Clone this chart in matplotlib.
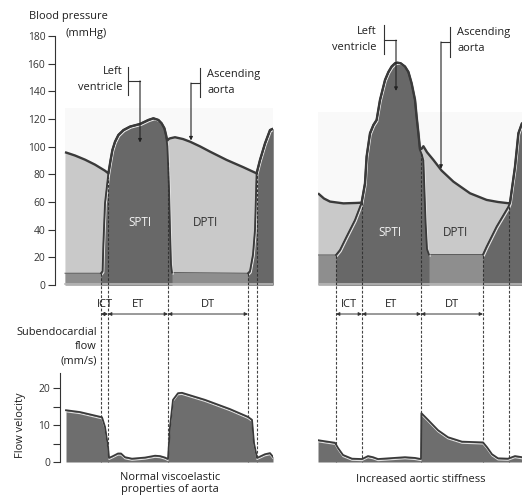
import numpy as np
import matplotlib
matplotlib.use("Agg")
import matplotlib.pyplot as plt
from matplotlib.transforms import offset_copy

plt.rcParams['font.family'] = ['Open Sans', 'DejaVu Sans']

# time in ms, pressure in mmHg, flow in mm/s

# --- normal viscoelastic aorta ---
lv_t_n = [0, 180, 188, 192, 200, 217, 228, 237, 250, 267, 292, 325, 375, 417, 442, 467,
          483, 497, 505, 512, 520, 525, 530, 535, 915, 925, 940, 950, 958, 975, 1000, 1025, 1040]
lv_p_n = [8.5, 8.5, 10, 30, 59, 80.7, 90.4, 97.6, 103.6, 108.5, 112, 114.5, 116.4, 119.3, 120.5, 119.3,
          116.9, 113.3, 108.5, 100, 70, 40, 15, 9, 8.5, 10, 22, 40, 80.7, 90.4, 102.4, 112, 113]
ao_t_n = [0, 50, 100, 150, 200, 217, 228, 237, 250, 267, 292, 325, 375, 417, 442, 467,
          483, 497, 505, 512, 518, 525, 550, 590, 625, 675, 725, 808, 892, 958, 975, 1000, 1025, 1040]
ao_p_n = [96, 93.6, 90.6, 87, 82.6, 80.7, 90.4, 97.6, 103.6, 108.5, 112, 114.5, 116.4, 119.3, 120.5, 119.3,
          116.9, 113.3, 108.5, 104.5, 105.5, 106, 106.8, 105.5, 103.6, 100.2, 96.4, 90.4, 85.1, 80.7,
          90.4, 102.4, 112, 113]
fl_t_n = [5, 75, 185, 200, 215, 220, 240, 265, 280, 300, 335, 400, 450, 475, 500, 515,
          525, 540, 565, 585, 700, 825, 915, 935, 945, 960, 1000, 1025, 1040]
fl_v_n = [14.0, 13.5, 12.1, 9.5, 4.1, 1.1, 1.6, 2.3, 2.3, 1.3, 0.9, 1.2, 1.7, 1.6, 1.2, 0.8,
          9.5, 16.8, 18.6, 18.7, 16.8, 14.3, 12.2, 11.4, 5.1, 1.1, 2.1, 2.4, 1.4]
ev_n = [180, 215, 515, 915, 960]

# --- increased aortic stiffness ---
lv_t_s = [0, 90, 110, 143, 185, 218, 235, 243, 260, 277, 293, 310, 335, 352, 368, 385, 397, 413,
          435, 452, 468, 485, 493, 502, 510, 520, 527, 533, 538, 545, 555,
          825, 843, 893, 952, 960, 985, 1002, 1020]
lv_p_s = [21.7, 21.7, 25.3, 35, 47, 59.5, 73.5, 92.8, 109.7, 115.7, 119.3, 133.8, 148.2, 154, 157.9, 160.3,
          160.7, 160.3, 157.9, 154, 145.8, 133.8, 121.7, 109.7, 97.6, 94, 90, 65, 45, 26, 22,
          22, 27.7, 42.2, 56.6, 59.5, 85.5, 109.7, 117]
ao_t_s = [0, 30, 60, 127, 190, 218, 235, 243, 260, 277, 293, 310, 335, 352, 368, 385, 397, 413,
          435, 452, 468, 485, 493, 502, 510, 518, 527, 545, 577, 618, 677, 760, 843, 900, 952,
          960, 985, 1002, 1020]
ao_p_s = [66.3, 62.5, 60.3, 59.0, 59.3, 59.5, 73.5, 92.8, 109.7, 115.7, 119.3, 133.8, 148.2, 154, 157.9,
          160.3, 160.7, 160.3, 157.9, 154, 145.8, 133.8, 121.7, 109.7, 98, 98.5, 100.3, 96, 90.4, 82.7,
          74.7, 66.3, 61.5, 60, 59.1, 59.5, 85.5, 109.7, 117]
fl_t_s = [0, 35, 85, 100, 125, 170, 220, 250, 275, 300, 435, 485, 515, 517, 550, 600, 650,
          720, 825, 845, 870, 900, 950, 985, 1020]
fl_v_s = [5.9, 5.6, 5.2, 3.8, 1.9, 0.9, 0.8, 1.6, 1.3, 0.8, 1.3, 1.1, 0.8, 13.2, 11.4, 8.6, 6.7,
          5.5, 5.3, 4.0, 2.1, 1.0, 0.9, 1.6, 1.3]
ev_s = [90, 220, 515, 825, 955]

phases = ["ICT", "ET", "DT"]
pressure_ticks = list(range(0, 181, 20))
flow_ticks = [0, 5, 10, 15, 20]

DARK = '#686868'
MID = '#8e8e8e'
LIGHT = '#c9c9c9'
EDGE = '#3a3a3a'
TXT = '#1e1e1e'
FS = 7.9

fig = plt.figure(figsize=(5.22, 4.97), dpi=100)
W, H = 522, 497


def box(x0, y0, x1, y1):
    return [x0 / W, 1 - y1 / H, (x1 - x0) / W, (y1 - y0) / H]


axp_n = fig.add_axes(box(55, 0, 273, 285))
axf_n = fig.add_axes(box(55, 285, 273, 462))
axp_s = fig.add_axes(box(318, 0, 522, 285))
axf_s = fig.add_axes(box(318, 285, 522, 462))


def draw_pressure(ax, ao_t, ao_p, lv_t, lv_p, windows, bg_top):
    ao_t, ao_p = np.array(ao_t), np.array(ao_p)
    lv_t, lv_p = np.array(lv_t), np.array(lv_p)
    ax.fill_between([ao_t[0], ao_t[-1]], 0, bg_top, color='#f9f9f9', lw=0, zorder=0)
    ax.fill_between(ao_t, 0, ao_p, color=LIGHT, lw=0, zorder=1)
    ax.fill_between(lv_t, 0, lv_p, color=MID, lw=0, zorder=2)
    ax.plot(lv_t, lv_p, color='#555555', lw=0.7, zorder=3)
    hl = offset_copy(ax.transData, fig=fig, x=1.2, y=-1.5, units='dots')
    for a, b in windows:
        m = (lv_t >= a) & (lv_t <= b)
        ax.fill_between(lv_t[m], 0, lv_p[m], color=DARK, lw=0, zorder=4)
        ax.plot(lv_t[m], lv_p[m], color='#e6e6e6', lw=0.8, zorder=5, transform=hl)
        ax.plot(lv_t[m], lv_p[m], color=EDGE, lw=1.3, zorder=6)
    ax.plot(ao_t, ao_p, color=EDGE, lw=1.7, zorder=6, solid_capstyle='butt')
    ax.plot([ao_t[0], ao_t[-1]], [0.6, 0.6], color='#b8b8b8', lw=1.2, zorder=7)


def draw_flow(ax, t, v):
    ax.fill_between(t, 0, v, color='#6e6e6e', lw=0, zorder=2)
    hl = offset_copy(ax.transData, fig=fig, x=0, y=-1.6, units='dots')
    ax.plot(t, v, color='#e0e0e0', lw=0.8, zorder=3, transform=hl)
    ax.plot(t, v, color=EDGE, lw=1.3, zorder=4)


def draw_events(axp, axf, ev, lv_t, lv_p):
    tops = np.interp(ev, lv_t, lv_p)
    axp.vlines(ev, 0, tops, colors='#333333', linestyles=(0, (2.5, 1.5)), lw=0.8, zorder=8)
    axf.vlines(ev, 0, axf.get_ylim()[1], colors='#444444', linestyles=(0, (2.5, 1.5)), lw=0.8,
               zorder=1, clip_on=False)
    for i, name in enumerate(phases):
        axf.annotate('', xy=(ev[i], 40), xytext=(ev[i + 1], 40),
                     arrowprops=dict(arrowstyle='<|-|>', lw=0.7, color='#333333',
                                     mutation_scale=5, shrinkA=0, shrinkB=0))
        axf.text((ev[i] + ev[i + 1]) / 2, 42.6, name, ha='center', va='center',
                 fontsize=FS, color=TXT)


for ax in (axp_n, axp_s):
    ax.set_ylim(0, 206)
for ax in (axf_n, axf_s):
    ax.set_ylim(0, 47.84)
axp_n.set_xlim(-50, 1040)
axf_n.set_xlim(-50, 1040)
axp_s.set_xlim(0, 1020)
axf_s.set_xlim(0, 1020)

draw_pressure(axp_n, ao_t_n, ao_p_n, lv_t_n, lv_p_n, [(180, 535), (915, 1040)], 128)
draw_pressure(axp_s, ao_t_s, ao_p_s, lv_t_s, lv_p_s, [(90, 555), (825, 1020)], 125)
draw_flow(axf_n, fl_t_n, fl_v_n)
draw_flow(axf_s, fl_t_s, fl_v_s)
draw_events(axp_n, axf_n, ev_n, lv_t_n, lv_p_n)
draw_events(axp_s, axf_s, ev_s, lv_t_s, lv_p_s)

# axes styling
for ax in (axp_n, axp_s, axf_n, axf_s):
    ax.patch.set_alpha(0)
    for s in ('top', 'right', 'bottom'):
        ax.spines[s].set_visible(False)
    ax.set_xticks([])
for ax in (axp_s, axf_s):
    ax.spines['left'].set_visible(False)
    ax.set_yticks([])

axp_n.spines['left'].set_bounds(0, 180)
axp_n.spines['left'].set_color('#333333')
axp_n.set_yticks(pressure_ticks)
axp_n.tick_params(axis='y', length=5, width=0.8, labelsize=7.4, colors='#333333', pad=2)

axf_n.spines['left'].set_position(('data', -25))
axf_n.spines['left'].set_bounds(0, 24)
axf_n.spines['left'].set_color('#333333')
axf_n.set_yticks(flow_ticks)
axf_n.set_yticklabels(['0', '', '10', '', '20'])
axf_n.tick_params(axis='y', length=5, width=0.8, labelsize=7.4, colors='#333333', pad=2)


def label_bracket(ax, lines, text_x, ty, bar_x, bar_y, hy, arrow_x, tip_y, right_text):
    ha = 'right' if right_text else 'left'
    for s, y in zip(lines, ty):
        ax.text(text_x, y, s, ha=ha, va='center', fontsize=FS, color=TXT, clip_on=False)
    ax.plot([bar_x, bar_x], bar_y, color='#333333', lw=0.8, clip_on=False)
    ax.plot([bar_x, arrow_x], [hy, hy], color='#333333', lw=0.8, clip_on=False)
    ax.annotate('', xy=(arrow_x, tip_y), xytext=(arrow_x, hy),
                arrowprops=dict(arrowstyle='-|>', lw=0.8, color='#222222',
                                mutation_scale=5, shrinkA=0, shrinkB=0), zorder=10)


label_bracket(axp_n, ['Left', 'ventricle'], 290, [154, 142.4], 315, [137.4, 157.6], 147.5, 375, 103, True)
label_bracket(axp_n, ['Ascending', 'aorta'], 710, [151.8, 140.3], 675, [135.9, 156.9], 146, 630, 104.5, False)
label_bracket(axp_s, ['Left', 'ventricle'], 295, [183, 171.4], 330, [167, 188], 177, 390, 140.3, True)
label_bracket(axp_s, ['Ascending', 'aorta'], 695, [182.2, 170.6], 660, [164.9, 186.6], 175.7, 615, 84, False)

axp_n.text(-180, 194, 'Blood pressure', ha='left', va='center', fontsize=FS, color=TXT, clip_on=False)
axp_n.text(0, 182, '(mmHg)', ha='left', va='center', fontsize=FS, color=TXT)

axp_n.text(375, 45, 'SPTI', ha='center', va='center', fontsize=8.4, color='#f2f2f2', zorder=9)
axp_n.text(700, 45, 'DPTI', ha='center', va='center', fontsize=8.4, color='#333333', zorder=9)
axp_s.text(360, 37.6, 'SPTI', ha='center', va='center', fontsize=8.4, color='#f2f2f2', zorder=9)
axp_s.text(685, 37.6, 'DPTI', ha='center', va='center', fontsize=8.4, color='#333333', zorder=9)

for s, y in zip(['Subendocardial', 'flow', '(mm/s)'], [35.1, 31.1, 27.3]):
    axf_n.text(160, y, s, ha='right', va='center', fontsize=FS, color=TXT, clip_on=False)
axf_n.text(-225, 10, 'Flow velocity', rotation=90, ha='center', va='center', fontsize=FS,
           color=TXT, clip_on=False)
axf_n.text(525, -4.3, 'Normal viscoelastic', ha='center', va='center', fontsize=FS, color=TXT, clip_on=False)
axf_n.text(525, -7.5, 'properties of aorta', ha='center', va='center', fontsize=FS, color=TXT, clip_on=False)
axf_s.text(515, -4.6, 'Increased aortic stiffness', ha='center', va='center', fontsize=FS, color=TXT,
           clip_on=False)

fig.savefig('out.png', dpi=100)
